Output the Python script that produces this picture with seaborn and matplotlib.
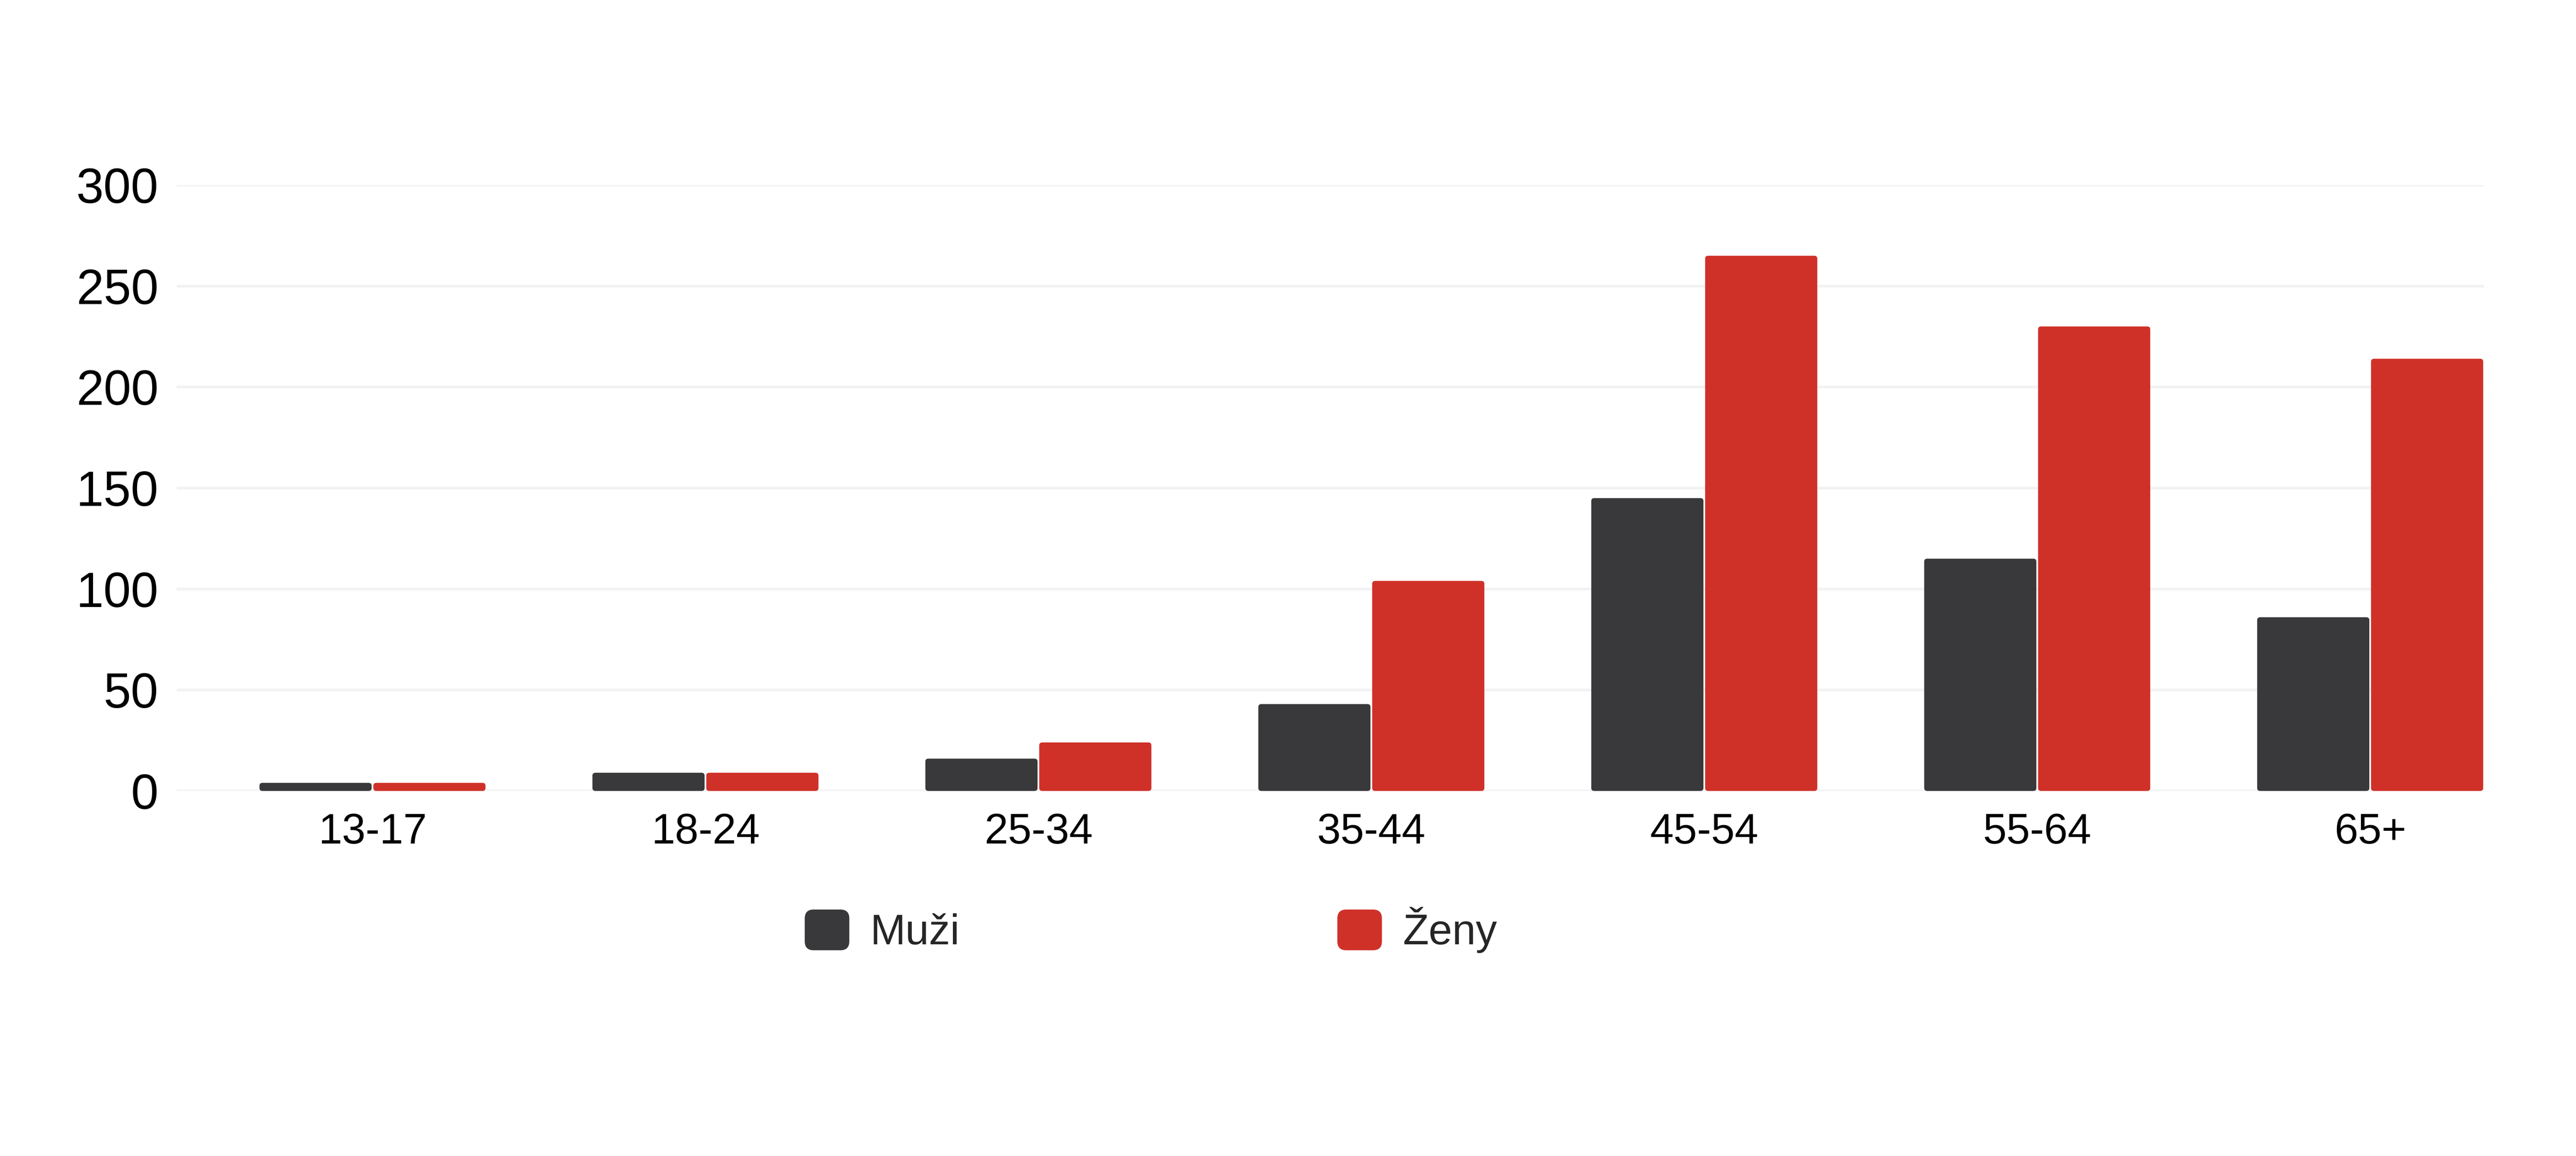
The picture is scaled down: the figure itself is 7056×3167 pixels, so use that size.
import matplotlib
matplotlib.use('Agg')
import matplotlib.pyplot as plt
import pandas as pd
import seaborn as sns
from matplotlib.patches import FancyBboxPatch, Patch
from matplotlib.legend_handler import HandlerPatch

# data
age_groups = ['13-17', '18-24', '25-34', '35-44', '45-54', '55-64', '65+']
muzi = [4, 9, 16, 43, 145, 115, 86]
zeny = [4, 9, 24, 104, 265, 230, 214]
series = ['Muži', 'Ženy']
colors = ['#39393b', '#cf3129']
y_ticks = [0, 50, 100, 150, 200, 250, 300]

df = pd.DataFrame({
    'age': age_groups * 2,
    'value': muzi + zeny,
    'sex': [series[0]] * len(age_groups) + [series[1]] * len(age_groups),
})

sns.set_theme(style='white')
plt.rcParams['font.family'] = ['Liberation Sans', 'DejaVu Sans']

fig = plt.figure(figsize=(15.68, 7.0378), dpi=450)
ax = fig.add_axes([0.0686, 0.3158, 0.9643 - 0.0686, 0.8399 - 0.3158])

sns.barplot(data=df, x='age', y='value', hue='sex', order=age_groups,
            hue_order=series, palette=colors, width=0.684, gap=0.015,
            saturation=1, legend=False, ax=ax)

# swap plain rectangles for slightly rounded ones
for bar in list(ax.patches):
    x, y = bar.get_xy()
    w, h = bar.get_width(), bar.get_height()
    rounded = FancyBboxPatch((x, y), w, h,
                             boxstyle='round,pad=0,rounding_size=0.009',
                             mutation_aspect=160,
                             facecolor=bar.get_facecolor(), edgecolor='none',
                             zorder=3)
    bar.remove()
    ax.add_patch(rounded)

ax.set_xlim(-0.588, 6.342)
ax.set_ylim(0, 300)
ax.set_yticks(y_ticks)
ax.set_xlabel('')
ax.set_ylabel('')
ax.grid(axis='y', color='#f2f2f2', linewidth=1.2, zorder=0)
ax.set_axisbelow(True)
for side in ['top', 'right', 'left', 'bottom']:
    ax.spines[side].set_visible(False)
ax.tick_params(axis='y', length=0, pad=8, labelsize=21.6, labelcolor='black')
ax.tick_params(axis='x', length=0, pad=9.5, labelsize=18.6, labelcolor='black')


def rounded_handle(legend, orig_handle, xdescent, ydescent, width, height, fontsize):
    return FancyBboxPatch((-xdescent, -ydescent), width, height,
                          boxstyle='round,pad=0,rounding_size=%f' % (0.2 * width))


handles = [Patch(facecolor=c, edgecolor='none') for c in colors]
fig.legend(handles, series, loc='center left', bbox_to_anchor=(0.3124, 0.1955),
           ncol=2, frameon=False, fontsize=18.6, borderpad=0, borderaxespad=0,
           handlelength=1.05, handleheight=1.1, handletextpad=0.49,
           columnspacing=8.9,
           handler_map={Patch: HandlerPatch(patch_func=rounded_handle)})

fig.savefig('out.png', dpi=450, facecolor='white')
